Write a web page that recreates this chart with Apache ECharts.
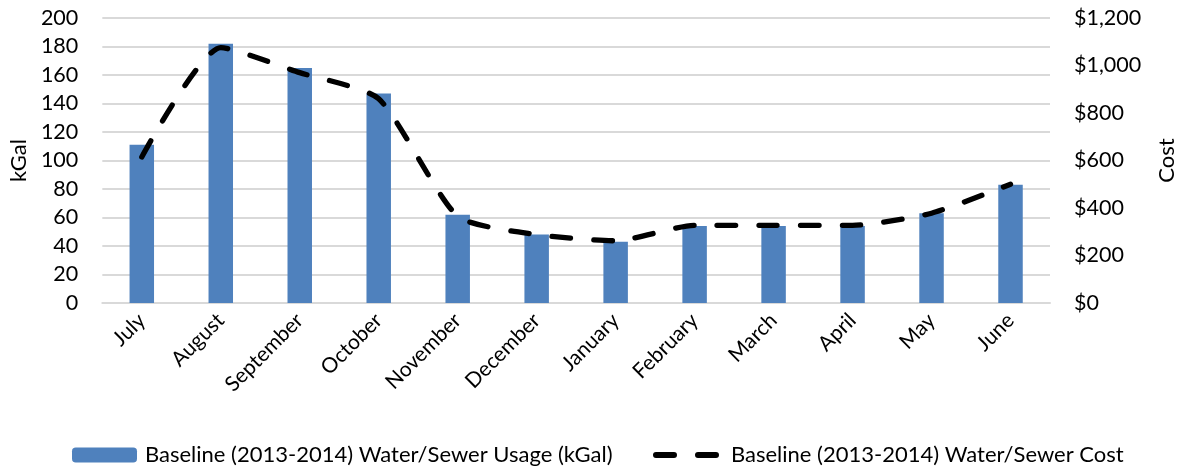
<!DOCTYPE html>
<html>
<head>
<meta charset="utf-8">
<script src="https://cdn.jsdelivr.net/npm/echarts@6/dist/echarts.min.js"></script>
<style>
  html, body { margin: 0; padding: 0; background: #fff; }
  #chart { width: 1186px; height: 470px; }
</style>
</head>
<body>
<div id="chart"></div>
<script>
// Monthly water/sewer usage and cost, fiscal year July 2013 - June 2014
const months = ['July', 'August', 'September', 'October', 'November', 'December',
                'January', 'February', 'March', 'April', 'May', 'June'];
const usageKGal = [111, 182, 165, 147, 62, 48, 43, 54, 54, 54, 63, 83];
const costUSD = [615, 1075, 970, 860, 365, 288, 262, 327, 327, 327, 378, 500];
const usageTicks = [0, 200, 20];     // min, max, step
const costTicks = [0, 1200, 200];    // min, max, step

const usageName = 'Baseline (2013-2014) Water/Sewer Usage (kGal)';
const costName = 'Baseline (2013-2014) Water/Sewer Cost';

const FONT = 'Lato';
const gridColor = '#d9d9d9';

// two rounded dashes for the cost legend key
const dashIcon = 'path://M3,0H21A3,3 0 0 1 21,6H3A3,3 0 0 1 3,0Z' +
                 'M45,0H63A3,3 0 0 1 63,6H45A3,3 0 0 1 45,0Z';

const chart = echarts.init(document.getElementById('chart'));
chart.setOption({
  animation: false,
  textStyle: { fontFamily: FONT, color: '#000' },
  grid: { left: 100, right: 134, top: 18, bottom: 167, containLabel: false },
  legend: [
    {
      data: [usageName],
      left: 72, top: 444, padding: 0,
      itemWidth: 65, itemHeight: 15,
      textStyle: { fontFamily: FONT, fontSize: 22, color: '#000', padding: [0, 0, 0, 3] }
    },
    {
      data: [{ name: costName, icon: dashIcon }],
      left: 653, top: 444, padding: 0,
      itemWidth: 66, itemHeight: 6,
      itemStyle: { color: '#000' },
      textStyle: { fontFamily: FONT, fontSize: 22, color: '#000', padding: [0, 0, 0, 7] }
    }
  ],
  xAxis: {
    type: 'category',
    data: months,
    axisLine: { lineStyle: { color: gridColor, width: 2 } },
    axisTick: { show: false },
    axisLabel: {
      rotate: 45, fontSize: 21, color: '#000', fontFamily: FONT,
      margin: 14, interval: 0
    }
  },
  yAxis: [
    {
      type: 'value',
      min: usageTicks[0], max: usageTicks[1], interval: usageTicks[2],
      name: 'kGal', nameLocation: 'middle', nameGap: 72, nameRotate: 90,
      nameTextStyle: { fontSize: 22, fontFamily: FONT, color: '#000' },
      axisLine: { show: false }, axisTick: { show: false },
      axisLabel: { fontSize: 21.5, color: '#000', margin: 24, fontFamily: FONT },
      splitLine: { lineStyle: { color: gridColor, width: 2 } }
    },
    {
      type: 'value', position: 'right',
      min: costTicks[0], max: costTicks[1], interval: costTicks[2],
      name: 'Cost', nameLocation: 'middle', nameGap: 106, nameRotate: 90,
      nameTextStyle: { fontSize: 22, fontFamily: FONT, color: '#000' },
      axisLine: { show: false }, axisTick: { show: false },
      axisLabel: {
        fontSize: 21.5, color: '#000', margin: 24, fontFamily: FONT,
        formatter: v => '$' + v.toLocaleString('en-US')
      },
      splitLine: { show: false }
    }
  ],
  series: [
    {
      name: usageName,
      type: 'bar',
      data: usageKGal,
      yAxisIndex: 0,
      barWidth: '31%',
      itemStyle: { color: '#4f81bd' }
    },
    {
      name: costName,
      type: 'line',
      data: costUSD,
      yAxisIndex: 1,
      smooth: 0.2,
      symbol: 'none',
      itemStyle: { color: '#000' },
      lineStyle: { color: '#000', width: 5.3, type: [18.5, 23.2], cap: 'round' }
    }
  ]
});
</script>
</body>
</html>
